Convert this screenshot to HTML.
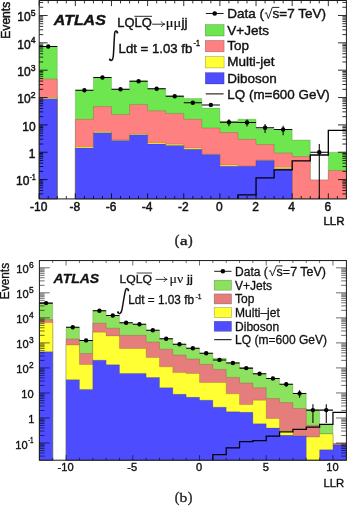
<!DOCTYPE html><html><head><meta charset="utf-8"><style>html,body{margin:0;padding:0;background:#fff}svg{display:block}svg{filter:blur(0.3px)}text{font-family:"Liberation Sans",sans-serif;fill:#111;stroke:#111;stroke-width:0.3px}.c1 text{stroke-width:0.4px}.c1 text.ax{stroke-width:0.46px}text.ax{stroke-width:0.36px}</style></head><body>
<svg width="347" height="506" viewBox="0 0 347 506">
<rect width="347" height="506" fill="#fff"/>
<g class="c1">
<path d="M39.2 198.9 L39.2 46.5 L57.27 46.5 L57.27 198.9Z" fill="#6ee650" stroke="rgba(40,30,0,0.35)" stroke-width="0.5"/>
<path d="M75.34 198.9 L75.34 90.3 L93.41 90.3 L93.41 77.5 L111.48 77.5 L111.48 89.3 L129.55 89.3 L129.55 80.8 L147.62 80.8 L147.62 88.8 L165.69 88.8 L165.69 95.7 L183.76 95.7 L183.76 98.6 L201.83 98.6 L201.83 108 L219.9 108 L219.9 121.3 L237.97 121.3 L237.97 119.2 L256.04 119.2 L256.04 128.7 L274.11 128.7 L274.11 129.5 L292.18 129.5 L292.18 140 L310.25 140 L310.25 179.9 L328.32 179.9 L328.32 152.2 L346.39 152.2 L346.39 198.9Z" fill="#6ee650" stroke="rgba(40,30,0,0.35)" stroke-width="0.5"/>
<path d="M39.2 198.9 L39.2 79 L57.27 79 L57.27 198.9Z" fill="#ff8080" stroke="rgba(40,30,0,0.35)" stroke-width="0.5"/>
<path d="M75.34 198.9 L75.34 119.3 L93.41 119.3 L93.41 106.6 L111.48 106.6 L111.48 114.4 L129.55 114.4 L129.55 104.4 L147.62 104.4 L147.62 110.8 L165.69 110.8 L165.69 113.4 L183.76 113.4 L183.76 119.3 L201.83 119.3 L201.83 128 L219.9 128 L219.9 132.6 L237.97 132.6 L237.97 139.3 L256.04 139.3 L256.04 144.5 L274.11 144.5 L274.11 152.9 L292.18 152.9 L292.18 156.6 L310.25 156.6 L310.25 179.9 L328.32 179.9 L328.32 170.4 L346.39 170.4 L346.39 198.9Z" fill="#ff8080" stroke="rgba(40,30,0,0.35)" stroke-width="0.5"/>
<path d="M39.2 198.9 L39.2 97.5 L57.27 97.5 L57.27 198.9Z" fill="#ffff33" stroke="rgba(40,30,0,0.35)" stroke-width="0.5"/>
<path d="M75.34 198.9 L75.34 146.7 L93.41 146.7 L93.41 131.6 L111.48 131.6 L111.48 140 L129.55 140 L129.55 133.7 L147.62 133.7 L147.62 142.7 L165.69 142.7 L165.69 144.2 L183.76 144.2 L183.76 148.1 L201.83 148.1 L201.83 154.2 L219.9 154.2 L219.9 165 L237.97 165 L237.97 166.3 L256.04 166.3 L256.04 160.2 L274.11 160.2 L274.11 167.3 L292.18 167.3 L292.18 198.9Z" fill="#ffff33" stroke="rgba(40,30,0,0.35)" stroke-width="0.5"/>
<path d="M39.2 198.9 L39.2 98.7 L57.27 98.7 L57.27 198.9Z" fill="#4d4dff" stroke="rgba(40,30,0,0.35)" stroke-width="0.5"/>
<path d="M75.34 198.9 L75.34 148 L93.41 148 L93.41 132.7 L111.48 132.7 L111.48 140.4 L129.55 140.4 L129.55 134.8 L147.62 134.8 L147.62 143.9 L165.69 143.9 L165.69 145.4 L183.76 145.4 L183.76 149.3 L201.83 149.3 L201.83 154.6 L219.9 154.6 L219.9 166.3 L237.97 166.3 L237.97 166.3 L256.04 166.3 L256.04 160.5 L274.11 160.5 L274.11 168.8 L292.18 168.8 L292.18 198.9Z" fill="#4d4dff" stroke="rgba(40,30,0,0.35)" stroke-width="0.5"/>
<path d="M237.97 198.9 L237.97 194.9 L256.04 194.9 L256.04 177.9 L274.11 177.9 L274.11 169.9 L292.18 169.9 L292.18 160.8 L310.25 160.8 L310.25 155 L328.32 155 L328.32 130.4 L346.39 130.4" fill="none" stroke="#000" stroke-width="1.3" stroke-linejoin="miter"/>
<path d="M39.2 198.9v-5.6M39.2 0.5v5.6M48.23 198.9v-2.9M48.23 0.5v2.9M57.27 198.9v-2.9M57.27 0.5v2.9M66.31 198.9v-2.9M66.31 0.5v2.9M75.34 198.9v-5.6M75.34 0.5v5.6M84.38 198.9v-2.9M84.38 0.5v2.9M93.41 198.9v-2.9M93.41 0.5v2.9M102.45 198.9v-2.9M102.45 0.5v2.9M111.48 198.9v-5.6M111.48 0.5v5.6M120.52 198.9v-2.9M120.52 0.5v2.9M129.55 198.9v-2.9M129.55 0.5v2.9M138.59 198.9v-2.9M138.59 0.5v2.9M147.62 198.9v-5.6M147.62 0.5v5.6M156.66 198.9v-2.9M156.66 0.5v2.9M165.69 198.9v-2.9M165.69 0.5v2.9M174.73 198.9v-2.9M174.73 0.5v2.9M183.76 198.9v-5.6M183.76 0.5v5.6M192.8 198.9v-2.9M192.8 0.5v2.9M201.83 198.9v-2.9M201.83 0.5v2.9M210.87 198.9v-2.9M210.87 0.5v2.9M219.9 198.9v-5.6M219.9 0.5v5.6M228.94 198.9v-2.9M228.94 0.5v2.9M237.97 198.9v-2.9M237.97 0.5v2.9M247 198.9v-2.9M247 0.5v2.9M256.04 198.9v-5.6M256.04 0.5v5.6M265.07 198.9v-2.9M265.07 0.5v2.9M274.11 198.9v-2.9M274.11 0.5v2.9M283.14 198.9v-2.9M283.14 0.5v2.9M292.18 198.9v-5.6M292.18 0.5v5.6M301.21 198.9v-2.9M301.21 0.5v2.9M310.25 198.9v-2.9M310.25 0.5v2.9M319.28 198.9v-2.9M319.28 0.5v2.9M328.32 198.9v-5.6M328.32 0.5v5.6M337.36 198.9v-2.9M337.36 0.5v2.9M39.2 193.9h4M346.4 193.9h-4M39.2 190.48h4M346.4 190.48h-4M39.2 187.83h4M346.4 187.83h-4M39.2 185.67h4M346.4 185.67h-4M39.2 183.84h4M346.4 183.84h-4M39.2 182.25h4M346.4 182.25h-4M39.2 180.85h4M346.4 180.85h-4M39.2 179.6h8.4M346.4 179.6h-8.4M39.2 171.37h4M346.4 171.37h-4M39.2 166.55h4M346.4 166.55h-4M39.2 163.13h4M346.4 163.13h-4M39.2 160.48h4M346.4 160.48h-4M39.2 158.32h4M346.4 158.32h-4M39.2 156.49h4M346.4 156.49h-4M39.2 154.9h4M346.4 154.9h-4M39.2 153.5h4M346.4 153.5h-4M39.2 152.25h8.4M346.4 152.25h-8.4M39.2 144.02h4M346.4 144.02h-4M39.2 139.2h4M346.4 139.2h-4M39.2 135.78h4M346.4 135.78h-4M39.2 133.13h4M346.4 133.13h-4M39.2 130.97h4M346.4 130.97h-4M39.2 129.14h4M346.4 129.14h-4M39.2 127.55h4M346.4 127.55h-4M39.2 126.15h4M346.4 126.15h-4M39.2 124.9h8.4M346.4 124.9h-8.4M39.2 116.67h4M346.4 116.67h-4M39.2 111.85h4M346.4 111.85h-4M39.2 108.43h4M346.4 108.43h-4M39.2 105.78h4M346.4 105.78h-4M39.2 103.62h4M346.4 103.62h-4M39.2 101.79h4M346.4 101.79h-4M39.2 100.2h4M346.4 100.2h-4M39.2 98.8h4M346.4 98.8h-4M39.2 97.55h8.4M346.4 97.55h-8.4M39.2 89.32h4M346.4 89.32h-4M39.2 84.5h4M346.4 84.5h-4M39.2 81.08h4M346.4 81.08h-4M39.2 78.43h4M346.4 78.43h-4M39.2 76.27h4M346.4 76.27h-4M39.2 74.44h4M346.4 74.44h-4M39.2 72.85h4M346.4 72.85h-4M39.2 71.45h4M346.4 71.45h-4M39.2 70.2h8.4M346.4 70.2h-8.4M39.2 61.97h4M346.4 61.97h-4M39.2 57.15h4M346.4 57.15h-4M39.2 53.73h4M346.4 53.73h-4M39.2 51.08h4M346.4 51.08h-4M39.2 48.92h4M346.4 48.92h-4M39.2 47.09h4M346.4 47.09h-4M39.2 45.5h4M346.4 45.5h-4M39.2 44.1h4M346.4 44.1h-4M39.2 42.85h8.4M346.4 42.85h-8.4M39.2 34.62h4M346.4 34.62h-4M39.2 29.8h4M346.4 29.8h-4M39.2 26.38h4M346.4 26.38h-4M39.2 23.73h4M346.4 23.73h-4M39.2 21.57h4M346.4 21.57h-4M39.2 19.74h4M346.4 19.74h-4M39.2 18.15h4M346.4 18.15h-4M39.2 16.75h4M346.4 16.75h-4M39.2 15.5h8.4M346.4 15.5h-8.4M39.2 7.27h4M346.4 7.27h-4M39.2 2.45h4M346.4 2.45h-4" stroke="rgba(0,0,0,0.9)" stroke-width="0.9" fill="none"/>
<rect x="39.2" y="0.5" width="307.2" height="198.4" fill="none" stroke="#1a1a1a" stroke-width="1"/>
<path d="M39.2 46.5H57.27M48.23 46.36V46.64" stroke="#000" stroke-width="1.05" fill="none"/>
<circle cx="48.23" cy="46.5" r="2.2" fill="#000"/>
<path d="M75.34 90.3H93.41M84.38 89.46V91.21" stroke="#000" stroke-width="1.05" fill="none"/>
<circle cx="84.38" cy="90.3" r="2.2" fill="#000"/>
<path d="M93.41 77.5H111.48M102.44 77V78.02" stroke="#000" stroke-width="1.05" fill="none"/>
<circle cx="102.44" cy="77.5" r="2.2" fill="#000"/>
<path d="M111.48 89.3H129.55M120.52 88.49V90.17" stroke="#000" stroke-width="1.05" fill="none"/>
<circle cx="120.52" cy="89.3" r="2.2" fill="#000"/>
<path d="M129.55 81.2H147.62M138.59 80.62V81.81" stroke="#000" stroke-width="1.05" fill="none"/>
<circle cx="138.59" cy="81.2" r="2.2" fill="#000"/>
<path d="M147.62 88.8H165.69M156.66 88.01V89.65" stroke="#000" stroke-width="1.05" fill="none"/>
<circle cx="156.66" cy="88.8" r="2.2" fill="#000"/>
<path d="M165.69 96.3H183.76M174.72 95.22V97.48" stroke="#000" stroke-width="1.05" fill="none"/>
<circle cx="174.72" cy="96.3" r="2.2" fill="#000"/>
<path d="M183.76 102.8H201.83M192.79 101.4V104.38" stroke="#000" stroke-width="1.05" fill="none"/>
<circle cx="192.79" cy="102.8" r="2.2" fill="#000"/>
<path d="M201.83 104.9H219.9M210.86 103.38V106.64" stroke="#000" stroke-width="1.05" fill="none"/>
<circle cx="210.86" cy="104.9" r="2.2" fill="#000"/>
<path d="M219.9 122.2H237.97M228.94 119.25V126.14" stroke="#000" stroke-width="1.05" fill="none"/>
<circle cx="228.94" cy="122.2" r="2.2" fill="#000"/>
<path d="M237.97 122.5H256.04M247.01 119.51V126.5" stroke="#000" stroke-width="1.05" fill="none"/>
<circle cx="247.01" cy="122.5" r="2.2" fill="#000"/>
<path d="M256.04 127.7H274.11M265.08 124.08V132.92" stroke="#000" stroke-width="1.05" fill="none"/>
<circle cx="265.08" cy="127.7" r="2.2" fill="#000"/>
<path d="M274.11 129.5H292.18M283.14 125.64V135.25" stroke="#000" stroke-width="1.05" fill="none"/>
<circle cx="283.14" cy="129.5" r="2.2" fill="#000"/>
<path d="M310.25 152.2H328.32M319.28 143.98V198.9" stroke="#000" stroke-width="1.05" fill="none"/>
<circle cx="319.28" cy="152.2" r="2.2" fill="#000"/>
<text class="ax" x="38.7" y="210.8" font-size="12" text-anchor="middle">-10</text>
<text class="ax" x="74.84" y="210.8" font-size="12" text-anchor="middle">-8</text>
<text class="ax" x="110.98" y="210.8" font-size="12" text-anchor="middle">-6</text>
<text class="ax" x="147.12" y="210.8" font-size="12" text-anchor="middle">-4</text>
<text class="ax" x="183.26" y="210.8" font-size="12" text-anchor="middle">-2</text>
<text class="ax" x="219.4" y="210.8" font-size="12" text-anchor="middle">0</text>
<text class="ax" x="255.54" y="210.8" font-size="12" text-anchor="middle">2</text>
<text class="ax" x="291.68" y="210.8" font-size="12" text-anchor="middle">4</text>
<text class="ax" x="327.82" y="210.8" font-size="12" text-anchor="middle">6</text>
<text class="ax" x="29.4" y="185.4" font-size="12" text-anchor="end">10</text>
<text class="ax" x="29.8" y="180" font-size="8.6" textLength="5.8" lengthAdjust="spacingAndGlyphs">-1</text>
<text class="ax" x="35.4" y="158.05" font-size="12" text-anchor="end">1</text>
<text class="ax" x="35.6" y="130.7" font-size="12" text-anchor="end">10</text>
<text class="ax" x="30.7" y="103.35" font-size="12" text-anchor="end">10</text>
<text class="ax" x="35.6" y="97.95" font-size="8.6" text-anchor="end">2</text>
<text class="ax" x="30.7" y="76" font-size="12" text-anchor="end">10</text>
<text class="ax" x="35.6" y="70.6" font-size="8.6" text-anchor="end">3</text>
<text class="ax" x="30.7" y="48.65" font-size="12" text-anchor="end">10</text>
<text class="ax" x="35.6" y="43.25" font-size="8.6" text-anchor="end">4</text>
<text class="ax" x="30.7" y="21.3" font-size="12" text-anchor="end">10</text>
<text class="ax" x="35.6" y="15.9" font-size="8.6" text-anchor="end">5</text>
<text class="ax" transform="translate(9.6,38.7) rotate(-90)" font-size="12.2" textLength="36.9" lengthAdjust="spacingAndGlyphs">Events</text>
<text class="ax" x="344.5" y="225.3" font-size="11.8" text-anchor="end" textLength="21" lengthAdjust="spacingAndGlyphs">LLR</text>
<text x="53.8" y="25.4" font-size="15.3" font-weight="bold" font-style="italic" textLength="52" lengthAdjust="spacingAndGlyphs">ATLAS</text>
<text x="117.2" y="27.2" font-size="12.5" textLength="34.6" lengthAdjust="spacingAndGlyphs">LQLQ</text>
<path d="M134.4 16.3H152" stroke="#111" stroke-width="0.9"/>
<path d="M152.2 24.2H164.6M161.3 21.4C162 22.9 163.2 23.8 164.8 24.2C163.2 24.6 162 25.5 161.3 27" stroke="#111" stroke-width="0.9" fill="none"/>
<text x="165.8" y="27.3" font-size="13.4" style="font-family:'Liberation Serif',serif;stroke-width:0.2px" textLength="15.5" lengthAdjust="spacingAndGlyphs">μμ</text>
<text x="181.5" y="27.3" font-size="12.5" textLength="6" lengthAdjust="spacingAndGlyphs">jj</text>
<path d="M117.4 32.6C117.2 30.6 115.3 30.2 114.8 32.4C114.2 36 113.8 52 113.2 57C112.7 60.8 110.6 61.4 109.8 59.5" stroke="#111" stroke-width="1.5" fill="none" stroke-linecap="round"/><circle cx="117.3" cy="32.5" r="1" fill="#111"/><circle cx="109.9" cy="59.5" r="1" fill="#111"/>
<text x="118.6" y="52.6" font-size="13.2" textLength="73.8" lengthAdjust="spacingAndGlyphs">Ldt = 1.03 fb</text>
<text x="193.6" y="46.3" font-size="8.6" textLength="6.4" lengthAdjust="spacingAndGlyphs">-1</text>
<path d="M205.8 13.5H223.6" stroke="#000" stroke-width="0.9"/><circle cx="214.7" cy="13.5" r="2.3" fill="#000"/>
<rect x="205.3" y="24.6" width="18.8" height="11.4" fill="#6ee650" stroke="rgba(0,0,0,0.35)" stroke-width="0.6"/>
<text x="227.3" y="34.83" font-size="13.5">V+Jets</text>
<rect x="205.3" y="40.4" width="18.8" height="11.4" fill="#ff8080" stroke="rgba(0,0,0,0.35)" stroke-width="0.6"/>
<text x="227.3" y="49.93" font-size="13.5">Top</text>
<rect x="205.3" y="56.5" width="18.8" height="11.4" fill="#ffff33" stroke="rgba(0,0,0,0.35)" stroke-width="0.6"/>
<text x="227.3" y="66.23" font-size="13.5">Multi-jet</text>
<rect x="205.3" y="72.6" width="18.8" height="11.4" fill="#4d4dff" stroke="rgba(0,0,0,0.35)" stroke-width="0.6"/>
<text x="227.3" y="82.73" font-size="13.5">Diboson</text>
<path d="M205.8 93.9H223.6" stroke="#000" stroke-width="1.0"/>
<text x="227.3" y="98.73" font-size="13.5" textLength="102.5" lengthAdjust="spacingAndGlyphs">LQ (m=600 GeV)</text>
<text x="227.3" y="18.33" font-size="13.5">Data (</text>
<path d="M264.8 13.47l1.6 -0.81l1.92 5.94l4 -11.21H279.35" stroke="#111" stroke-width="0.9" fill="none" stroke-linejoin="miter"/>
<text x="272.6" y="18.33" font-size="13.5" textLength="53.5" lengthAdjust="spacingAndGlyphs">s=7 TeV)</text>
<g style="font-family:'Liberation Serif',serif;fill:#222;stroke:#222;stroke-width:0.35px"><text x="174.8" y="244.9" font-size="14" style="font-family:inherit;fill:inherit;stroke:inherit">(</text><text x="179.9" y="244.9" font-size="13" textLength="7.6" lengthAdjust="spacingAndGlyphs" style="font-family:inherit;fill:inherit;stroke:inherit">a</text><text x="187.9" y="244.9" font-size="14" style="font-family:inherit;fill:inherit;stroke:inherit">)</text></g>
</g>
<path d="M39.4 460.2 L39.4 303.1 L52.74 303.1 L52.74 460.2Z" fill="#8ce15f" stroke="rgba(40,30,0,0.35)" stroke-width="0.5"/>
<path d="M66.09 460.2 L66.09 327.3 L79.43 327.3 L79.43 340.4 L92.77 340.4 L92.77 310.6 L106.12 310.6 L106.12 315.5 L119.46 315.5 L119.46 322.8 L132.8 322.8 L132.8 324.2 L146.14 324.2 L146.14 330.3 L159.49 330.3 L159.49 338.7 L172.83 338.7 L172.83 344.2 L186.17 344.2 L186.17 348.2 L199.52 348.2 L199.52 353.2 L212.86 353.2 L212.86 358.3 L226.2 358.3 L226.2 362.6 L239.55 362.6 L239.55 368.1 L252.89 368.1 L252.89 373.8 L266.23 373.8 L266.23 378.4 L279.57 378.4 L279.57 384.2 L292.92 384.2 L292.92 393.4 L306.26 393.4 L306.26 410.1 L319.6 410.1 L319.6 424.5 L332.95 424.5 L332.95 443.5 L346.29 443.5 L346.29 460.2Z" fill="#8ce15f" stroke="rgba(40,30,0,0.35)" stroke-width="0.5"/>
<path d="M39.4 460.2 L39.4 319.6 L52.74 319.6 L52.74 460.2Z" fill="#e67d7d" stroke="rgba(40,30,0,0.35)" stroke-width="0.5"/>
<path d="M66.09 460.2 L66.09 339 L79.43 339 L79.43 353.5 L92.77 353.5 L92.77 323.2 L106.12 323.2 L106.12 328.2 L119.46 328.2 L119.46 335.3 L132.8 335.3 L132.8 335.3 L146.14 335.3 L146.14 342 L159.49 342 L159.49 349.2 L172.83 349.2 L172.83 355 L186.17 355 L186.17 359 L199.52 359 L199.52 364.3 L212.86 364.3 L212.86 369.4 L226.2 369.4 L226.2 377.4 L239.55 377.4 L239.55 383 L252.89 383 L252.89 387.7 L266.23 387.7 L266.23 398.5 L279.57 398.5 L279.57 402.6 L292.92 402.6 L292.92 408.5 L306.26 408.5 L306.26 425.3 L319.6 425.3 L319.6 433.9 L332.95 433.9 L332.95 443.5 L346.29 443.5 L346.29 460.2Z" fill="#e67d7d" stroke="rgba(40,30,0,0.35)" stroke-width="0.5"/>
<path d="M39.4 460.2 L39.4 322.6 L52.74 322.6 L52.74 460.2Z" fill="#ffff33" stroke="rgba(40,30,0,0.35)" stroke-width="0.5"/>
<path d="M66.09 460.2 L66.09 345 L79.43 345 L79.43 364.5 L92.77 364.5 L92.77 332.2 L106.12 332.2 L106.12 335.9 L119.46 335.9 L119.46 348.5 L132.8 348.5 L132.8 348.5 L146.14 348.5 L146.14 357.4 L159.49 357.4 L159.49 366.8 L172.83 366.8 L172.83 372.6 L186.17 372.6 L186.17 373.4 L199.52 373.4 L199.52 382.5 L212.86 382.5 L212.86 382.5 L226.2 382.5 L226.2 393.8 L239.55 393.8 L239.55 404.6 L252.89 404.6 L252.89 400.2 L266.23 400.2 L266.23 418.4 L279.57 418.4 L279.57 430.7 L292.92 430.7 L292.92 435.8 L306.26 435.8 L306.26 437.1 L319.6 437.1 L319.6 433.9 L332.95 433.9 L332.95 445.1 L346.29 445.1 L346.29 460.2Z" fill="#ffff33" stroke="rgba(40,30,0,0.35)" stroke-width="0.5"/>
<path d="M39.4 460.2 L39.4 351.8 L52.74 351.8 L52.74 460.2Z" fill="#4d4dff" stroke="rgba(40,30,0,0.35)" stroke-width="0.5"/>
<path d="M66.09 460.2 L66.09 379.7 L79.43 379.7 L79.43 389.4 L92.77 389.4 L92.77 360.2 L106.12 360.2 L106.12 364.8 L119.46 364.8 L119.46 373.4 L132.8 373.4 L132.8 373.4 L146.14 373.4 L146.14 377.5 L159.49 377.5 L159.49 387.7 L172.83 387.7 L172.83 394.3 L186.17 394.3 L186.17 397.3 L199.52 397.3 L199.52 400.2 L212.86 400.2 L212.86 407.2 L226.2 407.2 L226.2 411.8 L239.55 411.8 L239.55 412.3 L252.89 412.3 L252.89 423.8 L266.23 423.8 L266.23 428 L279.57 428 L279.57 435.3 L292.92 435.3 L292.92 436 L306.26 436 L306.26 460.2Z" fill="#4d4dff" stroke="rgba(40,30,0,0.35)" stroke-width="0.5"/>
<path d="M319.6 460.2 L319.6 449.8 L332.95 449.8 L332.95 445.1 L346.29 445.1 L346.29 460.2Z" fill="#4d4dff" stroke="rgba(40,30,0,0.35)" stroke-width="0.5"/>
<path d="M212.86 460.2 L212.86 454.7 L226.2 454.7 L226.2 447.9 L239.55 447.9 L239.55 441.7 L252.89 441.7 L252.89 440.5 L266.23 440.5 L266.23 436 L279.57 436 L279.57 431.9 L292.92 431.9 L292.92 429.4 L306.26 429.4 L306.26 427 L319.6 427 L319.6 424.3 L332.95 424.3 L332.95 412.3 L346.29 412.3" fill="none" stroke="#000" stroke-width="1.25" stroke-linejoin="miter"/>
<path d="M52.74 460.2v-2.5M52.74 260.55v2.5M66.09 460.2v-5M66.09 260.55v5M79.43 460.2v-2.5M79.43 260.55v2.5M92.77 460.2v-2.5M92.77 260.55v2.5M106.12 460.2v-2.5M106.12 260.55v2.5M119.46 460.2v-2.5M119.46 260.55v2.5M132.8 460.2v-5M132.8 260.55v5M146.14 460.2v-2.5M146.14 260.55v2.5M159.49 460.2v-2.5M159.49 260.55v2.5M172.83 460.2v-2.5M172.83 260.55v2.5M186.17 460.2v-2.5M186.17 260.55v2.5M199.52 460.2v-5M199.52 260.55v5M212.86 460.2v-2.5M212.86 260.55v2.5M226.2 460.2v-2.5M226.2 260.55v2.5M239.55 460.2v-2.5M239.55 260.55v2.5M252.89 460.2v-2.5M252.89 260.55v2.5M266.23 460.2v-5M266.23 260.55v5M279.57 460.2v-2.5M279.57 260.55v2.5M292.92 460.2v-2.5M292.92 260.55v2.5M306.26 460.2v-2.5M306.26 260.55v2.5M319.6 460.2v-2.5M319.6 260.55v2.5M332.95 460.2v-5M332.95 260.55v5M39.4 456.09h5.2M346.4 456.09h-5.2M39.4 452.96h5.2M346.4 452.96h-5.2M39.4 450.53h5.2M346.4 450.53h-5.2M39.4 448.55h5.2M346.4 448.55h-5.2M39.4 446.88h5.2M346.4 446.88h-5.2M39.4 445.43h5.2M346.4 445.43h-5.2M39.4 444.15h5.2M346.4 444.15h-5.2M39.4 443h10.4M346.4 443h-10.4M39.4 435.47h5.2M346.4 435.47h-5.2M39.4 431.06h5.2M346.4 431.06h-5.2M39.4 427.93h5.2M346.4 427.93h-5.2M39.4 425.5h5.2M346.4 425.5h-5.2M39.4 423.52h5.2M346.4 423.52h-5.2M39.4 421.85h5.2M346.4 421.85h-5.2M39.4 420.4h5.2M346.4 420.4h-5.2M39.4 419.12h5.2M346.4 419.12h-5.2M39.4 417.97h10.4M346.4 417.97h-10.4M39.4 410.44h5.2M346.4 410.44h-5.2M39.4 406.03h5.2M346.4 406.03h-5.2M39.4 402.9h5.2M346.4 402.9h-5.2M39.4 400.47h5.2M346.4 400.47h-5.2M39.4 398.49h5.2M346.4 398.49h-5.2M39.4 396.82h5.2M346.4 396.82h-5.2M39.4 395.37h5.2M346.4 395.37h-5.2M39.4 394.09h5.2M346.4 394.09h-5.2M39.4 392.94h10.4M346.4 392.94h-10.4M39.4 385.41h5.2M346.4 385.41h-5.2M39.4 381h5.2M346.4 381h-5.2M39.4 377.87h5.2M346.4 377.87h-5.2M39.4 375.44h5.2M346.4 375.44h-5.2M39.4 373.46h5.2M346.4 373.46h-5.2M39.4 371.79h5.2M346.4 371.79h-5.2M39.4 370.34h5.2M346.4 370.34h-5.2M39.4 369.06h5.2M346.4 369.06h-5.2M39.4 367.91h10.4M346.4 367.91h-10.4M39.4 360.38h5.2M346.4 360.38h-5.2M39.4 355.97h5.2M346.4 355.97h-5.2M39.4 352.84h5.2M346.4 352.84h-5.2M39.4 350.41h5.2M346.4 350.41h-5.2M39.4 348.43h5.2M346.4 348.43h-5.2M39.4 346.76h5.2M346.4 346.76h-5.2M39.4 345.31h5.2M346.4 345.31h-5.2M39.4 344.03h5.2M346.4 344.03h-5.2M39.4 342.88h10.4M346.4 342.88h-10.4M39.4 335.35h5.2M346.4 335.35h-5.2M39.4 330.94h5.2M346.4 330.94h-5.2M39.4 327.81h5.2M346.4 327.81h-5.2M39.4 325.38h5.2M346.4 325.38h-5.2M39.4 323.4h5.2M346.4 323.4h-5.2M39.4 321.73h5.2M346.4 321.73h-5.2M39.4 320.28h5.2M346.4 320.28h-5.2M39.4 319h5.2M346.4 319h-5.2M39.4 317.85h10.4M346.4 317.85h-10.4M39.4 310.32h5.2M346.4 310.32h-5.2M39.4 305.91h5.2M346.4 305.91h-5.2M39.4 302.78h5.2M346.4 302.78h-5.2M39.4 300.35h5.2M346.4 300.35h-5.2M39.4 298.37h5.2M346.4 298.37h-5.2M39.4 296.7h5.2M346.4 296.7h-5.2M39.4 295.25h5.2M346.4 295.25h-5.2M39.4 293.97h5.2M346.4 293.97h-5.2M39.4 292.82h10.4M346.4 292.82h-10.4M39.4 285.29h5.2M346.4 285.29h-5.2M39.4 280.88h5.2M346.4 280.88h-5.2M39.4 277.75h5.2M346.4 277.75h-5.2M39.4 275.32h5.2M346.4 275.32h-5.2M39.4 273.34h5.2M346.4 273.34h-5.2M39.4 271.67h5.2M346.4 271.67h-5.2M39.4 270.22h5.2M346.4 270.22h-5.2M39.4 268.94h5.2M346.4 268.94h-5.2M39.4 267.79h10.4M346.4 267.79h-10.4" stroke="rgba(0,0,0,0.72)" stroke-width="0.8" fill="none"/>
<rect x="39.4" y="260.55" width="307" height="199.65" fill="none" stroke="#1a1a1a" stroke-width="1"/>
<path d="M39.4 303.1H52.74M46.07 303.04V303.16" stroke="#000" stroke-width="1.05" fill="none"/>
<circle cx="46.07" cy="303.1" r="2.2" fill="#000"/>
<path d="M66.09 327.3H79.43M72.76 327.13V327.47" stroke="#000" stroke-width="1.05" fill="none"/>
<circle cx="72.76" cy="327.3" r="2.2" fill="#000"/>
<path d="M79.43 340.4H92.77M86.1 340.1V340.71" stroke="#000" stroke-width="1.05" fill="none"/>
<circle cx="86.1" cy="340.4" r="2.2" fill="#000"/>
<path d="M92.77 310.8H106.12M99.44 310.72V310.88" stroke="#000" stroke-width="1.05" fill="none"/>
<circle cx="99.44" cy="310.8" r="2.2" fill="#000"/>
<path d="M106.12 315.5H119.46M112.79 315.4V315.6" stroke="#000" stroke-width="1.05" fill="none"/>
<circle cx="112.79" cy="315.5" r="2.2" fill="#000"/>
<path d="M119.46 322.8H132.8M126.13 322.66V322.94" stroke="#000" stroke-width="1.05" fill="none"/>
<circle cx="126.13" cy="322.8" r="2.2" fill="#000"/>
<path d="M132.8 324.2H146.14M139.47 324.06V324.35" stroke="#000" stroke-width="1.05" fill="none"/>
<circle cx="139.47" cy="324.2" r="2.2" fill="#000"/>
<path d="M146.14 330.3H159.49M152.82 330.11V330.49" stroke="#000" stroke-width="1.05" fill="none"/>
<circle cx="152.82" cy="330.3" r="2.2" fill="#000"/>
<path d="M159.49 338.7H172.83M166.16 338.42V338.99" stroke="#000" stroke-width="1.05" fill="none"/>
<circle cx="166.16" cy="338.7" r="2.2" fill="#000"/>
<path d="M172.83 344.2H186.17M179.5 343.84V344.57" stroke="#000" stroke-width="1.05" fill="none"/>
<circle cx="179.5" cy="344.2" r="2.2" fill="#000"/>
<path d="M186.17 348.2H199.52M192.84 347.77V348.65" stroke="#000" stroke-width="1.05" fill="none"/>
<circle cx="192.84" cy="348.2" r="2.2" fill="#000"/>
<path d="M199.52 353.2H212.86M206.19 352.66V353.77" stroke="#000" stroke-width="1.05" fill="none"/>
<circle cx="206.19" cy="353.2" r="2.2" fill="#000"/>
<path d="M212.86 359.9H226.2M219.53 359.17V360.68" stroke="#000" stroke-width="1.05" fill="none"/>
<circle cx="219.53" cy="359.9" r="2.2" fill="#000"/>
<path d="M226.2 363H239.55M232.87 362.17V363.9" stroke="#000" stroke-width="1.05" fill="none"/>
<circle cx="232.87" cy="363" r="2.2" fill="#000"/>
<path d="M239.55 368.1H252.89M246.22 367.06V369.26" stroke="#000" stroke-width="1.05" fill="none"/>
<circle cx="246.22" cy="368.1" r="2.2" fill="#000"/>
<path d="M252.89 373.8H266.23M259.56 372.46V375.33" stroke="#000" stroke-width="1.05" fill="none"/>
<circle cx="259.56" cy="373.8" r="2.2" fill="#000"/>
<path d="M266.23 378.4H279.57M272.9 376.77V380.32" stroke="#000" stroke-width="1.05" fill="none"/>
<circle cx="272.9" cy="378.4" r="2.2" fill="#000"/>
<path d="M279.57 384.2H292.92M286.25 382.11V386.78" stroke="#000" stroke-width="1.05" fill="none"/>
<circle cx="286.25" cy="384.2" r="2.2" fill="#000"/>
<path d="M292.92 393.4H306.26M299.59 390.36V397.64" stroke="#000" stroke-width="1.05" fill="none"/>
<circle cx="299.59" cy="393.4" r="2.2" fill="#000"/>
<path d="M306.26 410.1H319.6M312.93 404.36V423.05" stroke="#000" stroke-width="1.05" fill="none"/>
<circle cx="312.93" cy="410.1" r="2.2" fill="#000"/>
<path d="M319.6 410.1H332.95M326.27 404.36V423.05" stroke="#000" stroke-width="1.05" fill="none"/>
<circle cx="326.27" cy="410.1" r="2.2" fill="#000"/>
<text class="ax" x="65.59" y="471.3" font-size="11.1" text-anchor="middle">-10</text>
<text class="ax" x="132.3" y="471.3" font-size="11.1" text-anchor="middle">-5</text>
<text class="ax" x="199.02" y="471.3" font-size="11.1" text-anchor="middle">0</text>
<text class="ax" x="265.73" y="471.3" font-size="11.1" text-anchor="middle">5</text>
<text class="ax" x="332.45" y="471.3" font-size="11.1" text-anchor="middle">10</text>
<text class="ax" x="27.6" y="448.5" font-size="11.1" text-anchor="end">10</text>
<text class="ax" x="28" y="442.9" font-size="8.4" textLength="5.6" lengthAdjust="spacingAndGlyphs">-1</text>
<text class="ax" x="34.3" y="423.47" font-size="11.1" text-anchor="end">1</text>
<text class="ax" x="33.6" y="398.44" font-size="11.1" text-anchor="end">10</text>
<text class="ax" x="28.7" y="373.41" font-size="11.1" text-anchor="end">10</text>
<text class="ax" x="33.6" y="367.81" font-size="8.4" text-anchor="end">2</text>
<text class="ax" x="28.7" y="348.38" font-size="11.1" text-anchor="end">10</text>
<text class="ax" x="33.6" y="342.78" font-size="8.4" text-anchor="end">3</text>
<text class="ax" x="28.7" y="323.35" font-size="11.1" text-anchor="end">10</text>
<text class="ax" x="33.6" y="317.75" font-size="8.4" text-anchor="end">4</text>
<text class="ax" x="28.7" y="298.32" font-size="11.1" text-anchor="end">10</text>
<text class="ax" x="33.6" y="292.72" font-size="8.4" text-anchor="end">5</text>
<text class="ax" x="28.7" y="273.29" font-size="11.1" text-anchor="end">10</text>
<text class="ax" x="33.6" y="267.69" font-size="8.4" text-anchor="end">6</text>
<text class="ax" transform="translate(9.2,299.2) rotate(-90)" font-size="12" textLength="36.3" lengthAdjust="spacingAndGlyphs">Events</text>
<text class="ax" x="344.2" y="486.8" font-size="11.2" text-anchor="end" textLength="20.7" lengthAdjust="spacingAndGlyphs">LLR</text>
<text x="53.6" y="283.1" font-size="13.5" font-weight="bold" font-style="italic" textLength="45.6" lengthAdjust="spacingAndGlyphs">ATLAS</text>
<text x="119.4" y="282.5" font-size="11.7" textLength="32.5" lengthAdjust="spacingAndGlyphs">LQLQ</text>
<path d="M136.6 273H152" stroke="#111" stroke-width="0.8"/>
<path d="M155.6 279.4H167M163.9 276.8C164.6 278.2 165.7 279 167.2 279.4C165.7 279.8 164.6 280.6 163.9 282" stroke="#111" stroke-width="0.85" fill="none"/>
<text x="169.6" y="282.5" font-size="12.3" style="font-family:'Liberation Serif',serif;stroke-width:0.12px" textLength="13.8" lengthAdjust="spacingAndGlyphs">μν</text>
<text x="187" y="282.5" font-size="11.7" textLength="5.8" lengthAdjust="spacingAndGlyphs">jj</text>
<path d="M128.4 290.4C128.2 288.3 126.3 287.8 125.6 290C124.4 294 122.9 305 121.9 310C121.2 313.6 119 314.6 117.9 312.3" stroke="#111" stroke-width="1.45" fill="none" stroke-linecap="round"/><circle cx="128.3" cy="290.3" r="0.95" fill="#111"/><circle cx="118" cy="312.3" r="0.95" fill="#111"/>
<text x="128.2" y="303.8" font-size="12" textLength="65.8" lengthAdjust="spacingAndGlyphs">Ldt = 1.03 fb</text>
<text x="195.4" y="299.2" font-size="7.6" textLength="6.0" lengthAdjust="spacingAndGlyphs">-1</text>
<path d="M214.2 271.3H231.5" stroke="#000" stroke-width="0.9"/><circle cx="222.85" cy="271.3" r="2.3" fill="#000"/>
<rect x="214.2" y="280.2" width="17.3" height="10" fill="#8ce15f" stroke="rgba(0,0,0,0.35)" stroke-width="0.6"/>
<text x="235.1" y="289.5" font-size="12.0">V+Jets</text>
<rect x="214.2" y="293.9" width="17.3" height="10" fill="#e67d7d" stroke="rgba(0,0,0,0.35)" stroke-width="0.6"/>
<text x="235.1" y="303.2" font-size="12.0">Top</text>
<rect x="214.2" y="307.6" width="17.3" height="10" fill="#ffff33" stroke="rgba(0,0,0,0.35)" stroke-width="0.6"/>
<text x="235.1" y="316.9" font-size="12.0">Multi–jet</text>
<rect x="214.2" y="321.3" width="17.3" height="10" fill="#4d4dff" stroke="rgba(0,0,0,0.35)" stroke-width="0.6"/>
<text x="235.1" y="330.6" font-size="12.0">Diboson</text>
<path d="M214.2 339.7H231.5" stroke="#000" stroke-width="1.0"/>
<text x="235.1" y="344" font-size="12.0" textLength="91.9" lengthAdjust="spacingAndGlyphs">LQ (m=600 GeV)</text>
<text x="235.1" y="275.6" font-size="12.0">Data (</text>
<path d="M268.9 271.28l1.58 -0.72l1.9 5.28l3.95 -9.96H282.6" stroke="#111" stroke-width="0.9" fill="none" stroke-linejoin="miter"/>
<text x="276.6" y="275.6" font-size="12.0" textLength="49.4" lengthAdjust="spacingAndGlyphs">s=7 TeV)</text>
<g style="font-family:'Liberation Serif',serif;fill:#222;stroke:#222;stroke-width:0.35px"><text x="174.8" y="502.3" font-size="14" style="font-family:inherit;fill:inherit;stroke:inherit">(</text><text x="179.6" y="502.3" font-size="13.4" textLength="7.8" lengthAdjust="spacingAndGlyphs" style="font-family:inherit;fill:inherit;stroke:inherit">b</text><text x="187.8" y="502.3" font-size="14" style="font-family:inherit;fill:inherit;stroke:inherit">)</text></g>
</svg></body></html>
